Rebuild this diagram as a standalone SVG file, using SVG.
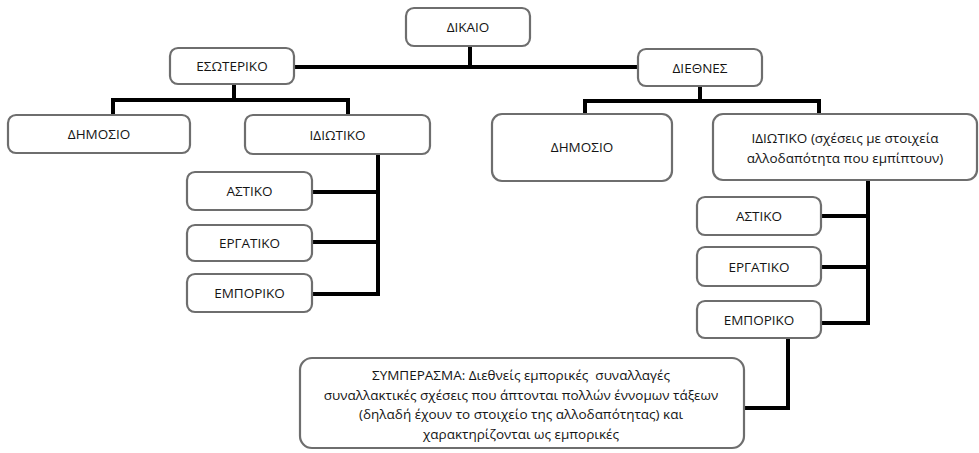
<svg xmlns="http://www.w3.org/2000/svg" width="979" height="453" viewBox="0 0 979 453">
<style>
.box{fill:#fff;stroke:#6e6e6e;stroke-width:2.2}
.t{font-family:"Open Sans","Noto Sans","Liberation Sans",sans-serif;font-size:13.5px;fill:#141414;text-anchor:middle;dominant-baseline:central}
.c{fill:none;stroke:#000;stroke-width:4;stroke-linejoin:miter;stroke-linecap:butt}
</style>
<rect width="979" height="453" fill="#fff"/>
<g id="connectors">
<path class="c" d="M470 46V67M294 67H638"/>
<path class="c" d="M234 84V100M113 117V100H348V117"/>
<path class="c" d="M378 154V296M312 192H378M312 242H378M312 294H378"/>
<path class="c" d="M700 86V101M585 115V101H819V115"/>
<path class="c" d="M868 180V323H821M822 216H868M822 267H868"/>
<path class="c" d="M788 338V408H744"/>
</g>
<g id="dikaio"><rect class="box" x="406" y="8" width="124" height="38" rx="8"/><text class="t" x="468" y="27">ΔΙΚΑΙΟ</text></g>
<g id="esoteriko"><rect class="box" x="170" y="48" width="124" height="36" rx="8"/><text class="t" x="232" y="66">ΕΣΩΤΕΡΙΚΟ</text></g>
<g id="diethnes"><rect class="box" x="638" y="49" width="124" height="37" rx="8"/><text class="t" x="700" y="67.5">ΔΙΕΘΝΕΣ</text></g>
<g id="dimosio-es"><rect class="box" x="8" y="115" width="182" height="38" rx="8"/><text class="t" x="99" y="134">ΔΗΜΟΣΙΟ</text></g>
<g id="idiotiko-es"><rect class="box" x="245" y="115" width="185" height="39" rx="8"/><text class="t" x="337.5" y="134.5">ΙΔΙΩΤΙΚΟ</text></g>
<g id="astiko-es"><rect class="box" x="187" y="172" width="125" height="38" rx="8"/><text class="t" x="249.5" y="191">ΑΣΤΙΚΟ</text></g>
<g id="ergatiko-es"><rect class="box" x="187" y="225" width="125" height="36" rx="8"/><text class="t" x="249.5" y="243">ΕΡΓΑΤΙΚΟ</text></g>
<g id="emporiko-es"><rect class="box" x="187" y="274" width="125" height="38" rx="8"/><text class="t" x="249.5" y="293">ΕΜΠΟΡΙΚΟ</text></g>
<g id="dimosio-di"><rect class="box" x="492" y="114" width="180" height="67" rx="10"/><text class="t" x="582" y="147">ΔΗΜΟΣΙΟ</text></g>
<g id="idiotiko-di"><rect class="box" x="713" y="114" width="264" height="66" rx="10"/><text class="t" x="845" y="138">ΙΔΙΩΤΙΚΟ (σχέσεις με στοιχεία</text><text class="t" x="845" y="158">αλλοδαπότητα που εμπίπτουν)</text></g>
<g id="astiko-di"><rect class="box" x="697" y="197" width="124" height="38" rx="8"/><text class="t" x="759" y="216">ΑΣΤΙΚΟ</text></g>
<g id="ergatiko-di"><rect class="box" x="697" y="247" width="124" height="39" rx="8"/><text class="t" x="759" y="266.5">ΕΡΓΑΤΙΚΟ</text></g>
<g id="emporiko-di"><rect class="box" x="697" y="301" width="124" height="37" rx="8"/><text class="t" x="759" y="319.5">ΕΜΠΟΡΙΚΟ</text></g>
<g id="symperasma"><rect class="box" x="300" y="358" width="444" height="90" rx="12"/>
<text class="t" x="521" y="375" xml:space="preserve">ΣΥΜΠΕΡΑΣΜΑ: Διεθνείς εμπορικές  συναλλαγές</text>
<text class="t" x="521" y="394.5">συναλλακτικές σχέσεις που άπτονται πολλών έννομων τάξεων</text>
<text class="t" x="521" y="414">(δηλαδή έχουν το στοιχείο της αλλοδαπότητας) και</text>
<text class="t" x="521" y="433.5">χαρακτηρίζονται ως εμπορικές</text>
</g>
</svg>
